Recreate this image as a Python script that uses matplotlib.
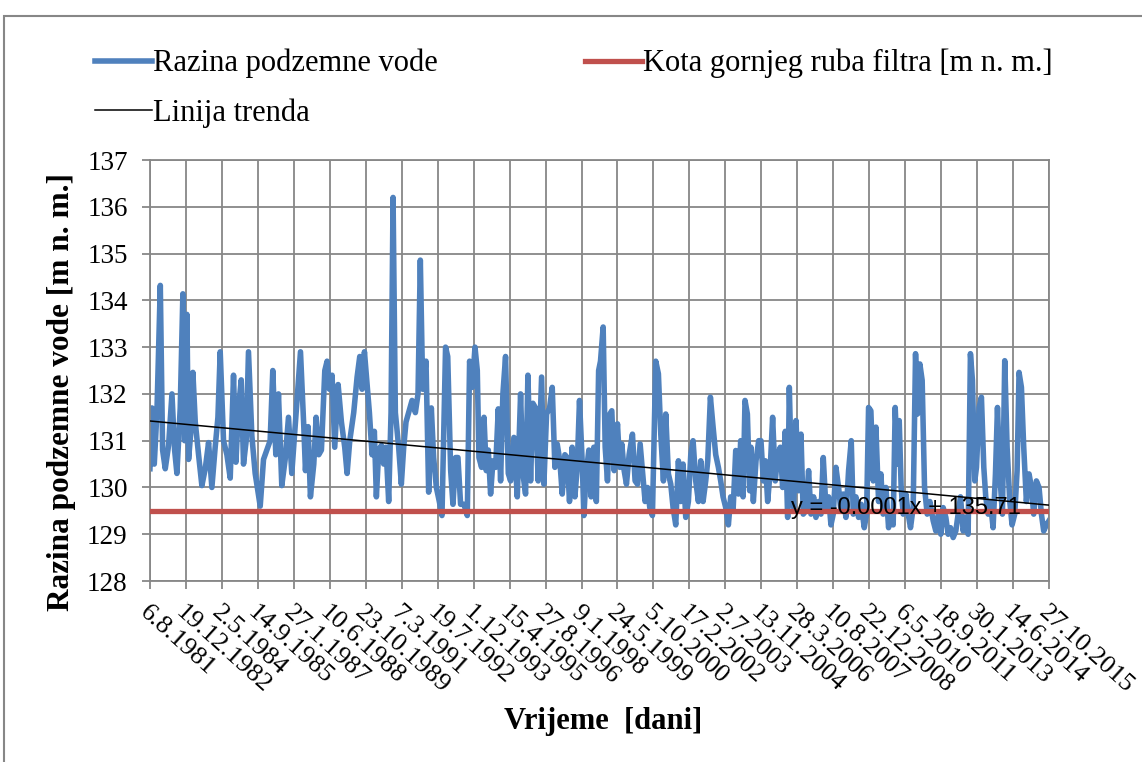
import matplotlib

matplotlib.use("Agg")
import matplotlib.pyplot as plt
import matplotlib.transforms as mtransforms
import numpy as np
from matplotlib.patches import Rectangle

# ── data ──────────────────────────────────────────────────────────────────
# days since 6.8.1981 (Excel serial 29804) and groundwater level [m n. m.]
start_serial = 29804
days = [
    0, 28, 60, 97, 144, 176, 213, 259, 306, 343, 375, 421, 458, 482, 514, 537,
    569, 597, 630, 676, 722, 769, 815, 861, 907, 945, 977, 1023, 1070, 1116,
    1162, 1195, 1232, 1269, 1301, 1338, 1370, 1417, 1463, 1533, 1579, 1625,
    1671, 1708, 1750, 1787, 1833, 1880, 1926, 1972, 2093,
    2139, 2162, 2199, 2231, 2278, 2310, 2347, 2384, 2431, 2463, 2495, 2532,
    2569, 2616, 2662, 2708, 2741, 2778, 2833, 2880, 2917, 2949, 2982, 3019,
    3051, 3088, 3120, 3148, 3181, 3218, 3250, 3282, 3319, 3352, 3380, 3412,
    3458, 3495, 3528, 3560, 3597, 3644, 3690, 3727, 3759, 3792, 3838, 3875,
    3912, 3944, 3982, 4023, 4060, 4110, 4140,
    4181, 4213, 4250, 4282, 4319, 4366, 4412, 4444, 4481, 4519, 4551, 4574,
    4611, 4644, 4676, 4704, 4736, 4769, 4806, 4843, 4875, 4907, 4944, 4982,
    5014, 5060, 5107, 5153, 5185, 5222, 5255, 5292, 5324, 5361, 5398, 5445,
    5477, 5514, 5556, 5593, 5630, 5662, 5699, 5732, 5769, 5801, 5833, 5870,
    5908, 5940, 5972, 6009, 6033, 6065, 6102, 6134, 6171, 6206, 6238,
    6264, 6301, 6329, 6361, 6394, 6421, 6454, 6500, 6532, 6560, 6593, 6625,
    6662, 6708, 6745, 6778, 6815, 6847, 6884, 6917, 6949, 6986, 7009, 7032,
    7069, 7102, 7139, 7171, 7208, 7241, 7273, 7310, 7347, 7380, 7412, 7449,
    7486, 7519, 7551, 7588, 7625, 7658, 7690, 7727, 7755, 7792, 7829, 7866,
    7903, 7935, 7968, 8005, 8042, 8074, 8107, 8144, 8181, 8213, 8246, 8273,
    8306, 8338,
    8356, 8389, 8426, 8463, 8495, 8528, 8556, 8588, 8620, 8657, 8694, 8727,
    8764, 8796, 8833, 8866, 8889, 8921, 8949, 8982, 9019, 9051, 9083, 9120,
    9157, 9190, 9227, 9259, 9296, 9329, 9361, 9398, 9435, 9468, 9500, 9537,
    9574, 9607, 9639, 9676, 9713, 9750, 9778, 9815, 9852, 9889, 9931, 9963,
    9991, 10023, 10056, 10093, 10130, 10162, 10194, 10232, 10269, 10301,
    10333, 10361, 10394,
    10417, 10444, 10472, 10509, 10542, 10574, 10611, 10644, 10671, 10704,
    10736, 10769, 10806, 10843, 10889, 10926, 10963, 10995, 11028, 11065,
    11097, 11130, 11167, 11204, 11236, 11269, 11306, 11343, 11375, 11407,
    11435, 11468, 11491, 11528, 11560, 11593, 11620, 11653, 11685, 11722,
    11755, 11783, 11815, 11852, 11884, 11917, 11954, 11986, 12023, 12056,
    12083, 12116, 12148, 12185, 12222, 12255, 12287, 12324, 12361, 12394,
    12426, 12463, 12500,
]
levels = [
    130.4, 131.7, 130.5, 131.6, 134.32, 130.8, 130.4, 130.9, 132.0, 130.8,
    130.3, 131.7, 134.14, 131.0, 133.7, 130.6, 131.2, 132.46, 131.4, 130.7,
    130.04, 130.4, 130.96, 130.0, 130.86, 131.5, 132.9, 131.0, 130.7, 130.2,
    132.4, 130.54, 131.7, 132.3, 130.5, 131.0, 132.9, 131.1, 130.3, 129.6,
    130.6, 130.8, 131.0, 132.5, 130.7, 132.0, 130.04, 130.6, 131.5, 130.3,
    132.9,
    131.3, 130.36, 131.3, 129.8, 130.5, 131.5, 130.7, 130.8, 132.5, 132.7,
    132.1, 132.4, 130.86, 132.2, 131.4, 130.86, 130.3, 131.0, 131.6, 132.36,
    132.8, 132.1, 132.9, 132.2, 131.6, 130.7, 131.2, 129.8, 130.8, 130.9,
    130.5, 130.86, 129.7, 131.6, 136.2, 131.6, 130.86, 130.07, 130.86, 131.4,
    131.6, 131.86, 131.6, 132.0, 134.86, 132.1, 132.7, 129.9, 131.7, 130.64,
    130.0, 129.7, 129.4, 133.0, 132.8,
    130.36, 129.64, 130.64, 130.64, 129.64, 129.64, 129.4, 132.7, 132.14,
    133.0, 132.5, 130.64, 130.43, 131.5, 130.36, 130.8, 129.86, 130.57,
    130.43, 131.68, 130.14, 132.0, 132.8, 130.3, 130.14, 131.07, 129.8, 132.0,
    130.3, 129.86, 132.4, 130.14, 131.8, 131.7, 130.14, 132.36, 130.07,
    131.57, 131.7, 132.14, 130.43, 130.93, 130.57, 129.86, 130.7, 130.64,
    129.7, 130.86, 129.8, 130.43, 131.86, 130.57, 129.4, 130.3, 130.8, 129.8,
    130.86, 129.7, 132.5,
    132.7, 133.43, 130.86, 130.14, 131.57, 131.64, 130.36, 131.36, 130.43,
    130.93, 130.36, 130.07, 130.7, 131.14, 130.14, 130.07, 130.93, 130.36,
    129.7, 130.0, 129.57, 129.4, 131.0, 132.7, 132.43, 131.14, 130.14,
    131.57, 130.29, 130.07, 129.57, 129.2, 130.57, 129.7, 130.5, 129.36,
    129.7, 130.7, 131.0, 130.14, 129.7, 130.57, 129.7, 130.14, 130.57,
    131.93, 131.3, 130.7, 130.43, 130.14, 129.8, 129.57, 129.2, 129.8, 129.5,
    130.79, 129.86, 131.0, 129.8, 131.86, 131.57, 129.93,
    130.86, 129.7, 130.57, 131.0, 131.0, 130.14, 130.57, 129.7, 130.29,
    131.5, 130.14, 130.7, 130.86, 130.0, 131.2, 129.36, 132.14, 130.14,
    129.57, 131.43, 129.93, 131.14, 129.43, 129.5, 130.36, 129.43, 129.8,
    129.36, 129.7, 129.43, 130.64, 129.57, 129.8, 129.2, 129.43, 130.43,
    130.0, 129.5, 129.86, 129.36, 130.36, 131.0, 129.43, 129.8, 129.36,
    129.64, 129.14, 129.43, 131.71, 131.64, 130.14, 131.29, 129.7, 130.29,
    129.43, 130.0, 129.14, 129.43, 129.2, 131.71, 130.5,
    131.43, 130.0, 129.43, 129.86, 129.43, 129.14, 129.57, 132.86, 131.57,
    132.64, 132.29, 130.0, 129.43, 129.7, 129.29, 129.07, 129.43, 129.0,
    129.57, 129.36, 129.0, 129.14, 128.93, 129.07, 129.43, 129.8, 129.07,
    129.36, 129.0, 132.86, 132.29, 130.14, 130.43, 131.71, 131.93, 130.43,
    129.8, 129.43, 129.7, 129.14, 130.29, 131.71, 130.29, 129.43, 132.71,
    130.86, 129.7, 129.2, 129.43, 130.36, 132.46, 132.14, 130.86, 129.7,
    130.29, 130.0, 129.43, 130.14, 130.0, 129.43, 129.07, 129.2, 129.29,
]
filter_top = 129.5  # kota gornjeg ruba filtra
trend_slope = -0.0001439
trend_intercept = 135.71
trend_label = "y = -0.0001x + 135.71"

tick_labels = [
    "6.8.1981", "19.12.1982", "2.5.1984", "14.9.1985", "27.1.1987",
    "10.6.1988", "23.10.1989", "7.3.1991", "19.7.1992", "1.12.1993",
    "15.4.1995", "27.8.1996", "9.1.1998", "24.5.1999", "5.10.2000",
    "17.2.2002", "2.7.2003", "13.11.2004", "28.3.2006", "10.8.2007",
    "22.12.2008", "6.5.2010", "18.9.2011", "30.1.2013", "14.6.2014",
    "27.10.2015",
]
tick_step = 500

serif = "Liberation Serif"
grid_col = "#878787"

x = start_serial + np.array(days)
y = np.array(levels)
x_end = start_serial + days[-1]

fig = plt.figure(figsize=(11.42, 7.62), dpi=100)
ax = fig.add_axes([0.1313, 0.2375, 0.7873, 0.5525])

ax.plot(x, y, color="#4F81BD", lw=4.0, solid_joinstyle="round",
        label="Razina podzemne vode")
tx = np.array([start_serial, x_end])
ax.plot(tx, trend_slope * tx + trend_intercept, color="black", lw=1.1,
        label="Linija trenda", zorder=4)
ax.plot(tx, [filter_top, filter_top], color="#C0504D", lw=3.8,
        label="Kota gornjeg ruba filtra [m n. m.]", zorder=3)

ax.text(38721, 129.57, trend_label, fontsize=17, family="Liberation Sans",
        va="center", ha="left", zorder=5)

ticks = start_serial + tick_step * np.arange(len(tick_labels))
ax.set_xlim(start_serial, x_end)
ax.set_xticks(ticks)
ax.set_xticklabels(tick_labels, rotation=-42, ha="left", va="top",
                   rotation_mode="anchor", family=serif, fontsize=19)
shift = mtransforms.ScaledTranslation(10 / 72, 0, fig.dpi_scale_trans)
for lab in ax.get_xticklabels():
    lab.set_transform(lab.get_transform() + shift)
ax.set_ylim(128, 137)
ax.set_yticks(np.arange(128, 138, 1))
for lab in ax.get_yticklabels():
    lab.set_family(serif)
    lab.set_fontsize(19.5)

ax.grid(True, color=grid_col, lw=1.3)
ax.set_axisbelow(True)
for s in ax.spines.values():
    s.set_color(grid_col)
    s.set_linewidth(1.3)
ax.tick_params(axis="both", color=grid_col, length=6, width=1.3)
ax.tick_params(axis="x", pad=9)
ax.tick_params(axis="y", pad=10)

ax.set_ylabel("Razina podzemne vode [m n. m.]", family=serif,
              fontweight="bold", fontsize=22.5)
ax.yaxis.set_label_coords(-0.082, 0.449)
fig.text(603 / 1142, 1 - 722 / 762, "Vrijeme  [dani]", family=serif,
         fontweight="bold", fontsize=22, ha="center", va="center")

handles, labels = ax.get_legend_handles_labels()
fig.legend(handles, labels, ncol=2, loc="upper left",
           bbox_to_anchor=(95 / 1142, 0.936), frameon=False,
           prop={"family": serif, "size": 22}, handlelength=1.86,
           handletextpad=0.05, columnspacing=4.8, labelspacing=0.66,
           borderpad=0, borderaxespad=0)

fig.patches.append(Rectangle((4 / 1142, -0.01), 1.0, 1 - 16 / 762 + 0.01,
                             transform=fig.transFigure, fill=False,
                             edgecolor=grid_col, lw=1.5))

fig.savefig("out.png", dpi=100)
